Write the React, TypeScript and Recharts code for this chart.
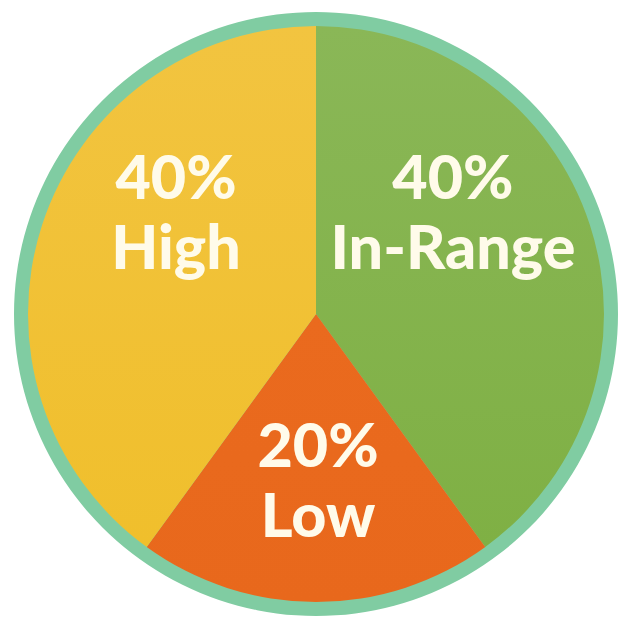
import { PieChart, Pie, Cell } from 'recharts'

const names = ['In-Range', 'Low', 'High']
const shares = [40, 20, 40]
const colors = ['#7fb044', '#e8681c', '#f0bf2c']

const slices = names.map((name, i) => ({ name, value: shares[i] }))
const ring = [{ name: 'border', value: 1 }]

// label nudges, relative to the slice centroid
const labelShift: Record<string, { dx: number; dy: number }> = {
    'In-Range': { dx: 0, dy: -58 },
    Low: { dx: 2, dy: 22 },
    High: { dx: -3, dy: -58 },
}

const RAD = Math.PI / 180

const renderLabel = (props: any) => {
    const { cx, cy, midAngle, outerRadius, name, value } = props
    const r = outerRadius * 0.5
    const shift = labelShift[name] ?? { dx: 0, dy: 0 }
    const x = cx + r * Math.cos(-midAngle * RAD) + shift.dx
    const y = cy + r * Math.sin(-midAngle * RAD) + shift.dy
    return (
        <text
            x={x}
            y={y}
            textAnchor="middle"
            fill="#fffbea"
            fontFamily="Lato, 'Open Sans', sans-serif"
            fontWeight={900}
            fontSize={61}
        >
            <tspan x={x} dy={-13}>{`${value}%`}</tspan>
            <tspan x={x} dy={70}>{name}</tspan>
        </text>
    )
}

export default function App() {
    return (
        <div style={{ position: 'absolute', left: 0, top: 0, width: 628, height: 625, background: '#ffffff' }}>
            <PieChart width={628} height={625} margin={{ top: 0, right: 0, bottom: 0, left: 0 }}>
                <defs>
                    <linearGradient id="g0" x1="0" y1="0" x2="0" y2="1">
                        <stop offset="0%" stopColor="#8ab757" />
                        <stop offset="100%" stopColor={colors[0]} />
                    </linearGradient>
                    <linearGradient id="g1" x1="0" y1="0" x2="0" y2="1">
                        <stop offset="0%" stopColor="#ea6a1e" />
                        <stop offset="100%" stopColor={colors[1]} />
                    </linearGradient>
                    <linearGradient id="g2" x1="0" y1="0" x2="0" y2="1">
                        <stop offset="0%" stopColor="#f2c440" />
                        <stop offset="100%" stopColor={colors[2]} />
                    </linearGradient>
                </defs>
                <Pie
                    data={ring}
                    dataKey="value"
                    cx={316}
                    cy={314}
                    outerRadius={302}
                    innerRadius={0}
                    fill="#80cca2"
                    stroke="none"
                    isAnimationActive={false}
                />
                <Pie
                    data={slices}
                    dataKey="value"
                    nameKey="name"
                    cx={316}
                    cy={314}
                    outerRadius={288}
                    startAngle={90}
                    endAngle={-270}
                    stroke="none"
                    labelLine={false}
                    label={renderLabel}
                    isAnimationActive={false}
                >
                    {slices.map((s, i) => (
                        <Cell key={s.name} fill={`url(#g${i})`} />
                    ))}
                </Pie>
            </PieChart>
        </div>
    )
}
